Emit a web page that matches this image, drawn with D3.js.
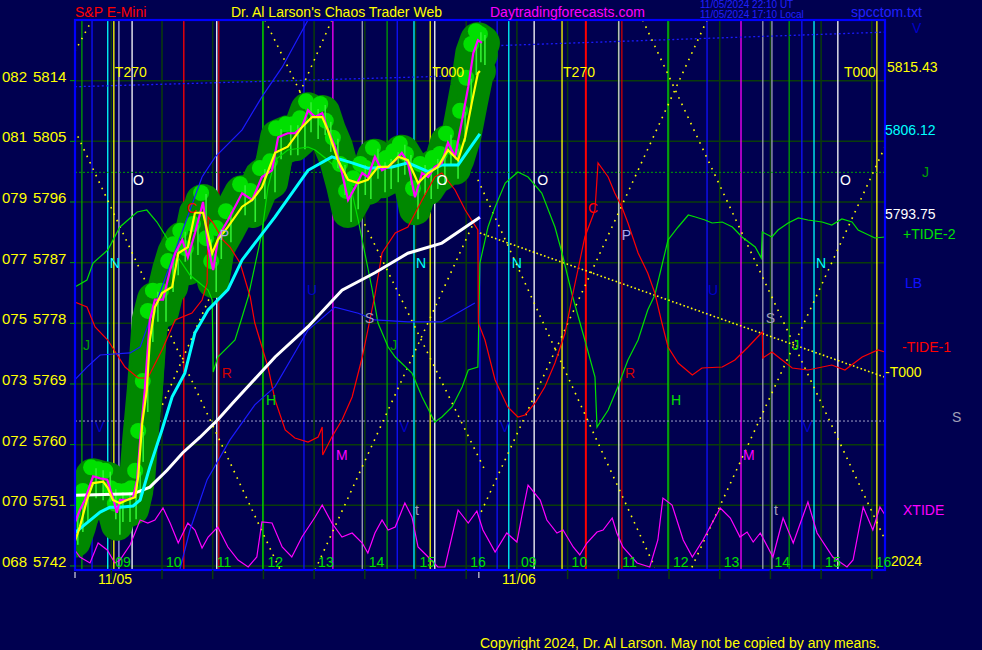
<!DOCTYPE html>
<html><head><meta charset="utf-8">
<script src="https://cdn.jsdelivr.net/npm/d3@7"></script>
<style>
html,body{margin:0;padding:0;background:#000050;overflow:hidden}
svg{display:block}
text{font-family:"Liberation Sans",Arial,sans-serif}
</style>
</head><body>
<svg id="chart" width="982" height="650"></svg>
<script>
// ---------------- DATA ----------------
const priceTicks   = [5742, 5751, 5760, 5769, 5778, 5787, 5796, 5805, 5814];
const degreeLabels = ["068", "070", "072", "073", "075", "077", "079", "081", "082"];
const hourTimes    = [9, 10, 11, 12, 13, 14, 15, 16, 17, 18, 19, 20, 21, 22, 23, 24];
const hourLabels   = ["09","10","11","12","13","14","15","16","09","10","11","12","13","14","15","16"];
const dayStarts    = [8.284, 16.25];
const dayLabels    = ["11/05", "11/06"];

// S&P E-mini price (time in session hours, price)
const priceRaw = [[8.28,5748.4],[8.38,5750.3],[8.48,5751.8],[8.64,5755.3],[8.78,5755.0],[8.92,5754.8],[9.03,5752.2],[9.11,5749.9],[9.17,5751.8],[9.31,5751.8],[9.43,5752.2],[9.51,5754.8],[9.57,5760.7],[9.66,5768.1],[9.76,5778.5],[9.86,5781.5],[10.02,5781.5],[10.16,5785.9],[10.26,5788.4],[10.40,5790.4],[10.51,5787.8],[10.65,5791.4],[10.81,5796.0],[10.91,5789.3],[11.01,5785.9],[11.11,5790.8],[11.30,5793.3],[11.58,5797.3],[11.78,5796.3],[11.97,5799.7],[12.17,5800.7],[12.29,5805.6],[12.48,5806.2],[12.62,5806.2],[12.76,5807.1],[12.88,5809.6],[13.02,5808.6],[13.16,5809.2],[13.27,5806.7],[13.41,5804.2],[13.55,5800.3],[13.67,5796.3],[13.81,5798.2],[13.95,5800.3],[14.06,5799.7],[14.20,5802.7],[14.34,5800.7],[14.46,5801.2],[14.60,5802.2],[14.73,5803.3],[14.85,5801.8],[14.99,5796.7],[15.13,5800.3],[15.25,5799.7],[15.38,5801.2],[15.52,5801.8],[15.64,5804.8],[15.78,5802.7],[15.92,5808.2],[16.04,5813.1],[16.14,5818.1],[16.23,5820.0],[16.31,5819.6]];
// smoothed price (yellow), last 5815.43
const priceSmooth = [[8.28,5745.6],[8.38,5747.8],[8.52,5751.8],[8.64,5754.3],[8.84,5754.5],[8.93,5753.6],[9.03,5751.8],[9.17,5751.3],[9.31,5751.8],[9.47,5752.2],[9.53,5755.2],[9.61,5763.2],[9.70,5768.1],[9.76,5775.5],[9.86,5780.4],[10.00,5782.5],[10.20,5783.4],[10.32,5788.4],[10.51,5789.3],[10.65,5794.4],[10.81,5794.4],[10.99,5788.4],[11.10,5790.4],[11.30,5792.3],[11.58,5795.3],[11.78,5796.3],[11.97,5798.2],[12.23,5803.3],[12.48,5804.2],[12.76,5807.1],[12.96,5808.6],[13.16,5808.6],[13.27,5806.7],[13.47,5802.2],[13.67,5799.3],[13.87,5798.8],[14.06,5799.3],[14.26,5801.2],[14.46,5801.2],[14.66,5802.7],[14.85,5802.2],[15.05,5798.8],[15.25,5800.3],[15.44,5801.2],[15.64,5803.7],[15.84,5802.2],[15.98,5805.6],[16.11,5810.7],[16.23,5815.1],[16.27,5815.43]];
// cyan average, last 5806.12
const avgCyan = [[8.28,5746.9],[8.52,5748.4],[8.78,5750.0],[8.97,5750.7],[9.17,5750.7],[9.43,5750.9],[9.57,5751.8],[9.76,5756.7],[10.00,5762.2],[10.20,5767.1],[10.45,5770.6],[10.65,5776.6],[10.91,5780.0],[11.30,5783.0],[11.58,5787.4],[12.23,5793.8],[12.88,5800.7],[13.35,5802.7],[13.75,5801.8],[14.06,5801.0],[14.54,5801.2],[14.85,5801.8],[15.25,5800.5],[15.52,5801.5],[15.84,5801.5],[16.27,5806.12]];
// white average, last 5793.75
const avgWhite = [[8.28,5752.5],[9.43,5752.7],[9.76,5753.7],[10.10,5756.2],[10.41,5758.8],[10.75,5761.1],[11.10,5763.7],[11.40,5766.2],[12.23,5773.0],[12.88,5777.5],[13.55,5782.9],[14.20,5785.5],[14.85,5788.4],[15.52,5789.9],[16.27,5793.75]];
// blue lines
const blueFast = [[8.28,5769.6],[8.52,5771.5],[8.78,5773.3],[9.37,5773.6],[9.57,5774.5],[10.79,5799.7],[11.05,5802.7],[11.58,5806.7],[11.97,5811.6],[12.37,5816.0],[12.88,5823.0]];
const blueSlow = [[10.35,5741.4],[10.55,5747.3],[10.89,5754.8],[11.34,5760.7],[11.83,5765.9],[12.23,5768.6],[12.88,5777.0],[13.41,5780.4],[13.87,5779.5],[14.20,5778.5],[14.85,5778.2],[15.52,5778.2],[16.17,5781.0]];
const lbDay1 = [[8.28,5813.1],[16.25,5814.8]];
const lbDay2 = [[16.25,5819.1],[24.26,5821.2]];
const levelJ = 5800.4;
const levelS = 5763.5;

// tides (tide units 0..550)
const tidePlus2 = [[8.28,283],[8.52,290],[8.64,307],[8.93,320],[9.17,343],[9.51,358],[9.70,360],[9.90,348],[10.12,330],[10.26,317],[10.55,295],[10.91,280],[10.99,270],[11.01,198],[11.10,213],[11.44,230],[11.58,253],[11.70,273],[11.97,337],[12.09,383],[12.23,410],[12.48,420],[12.88,423],[13.02,420],[13.27,410],[13.55,397],[13.75,377],[13.87,350],[14.00,317],[14.14,282],[14.26,247],[14.46,223],[14.60,213],[14.93,197],[15.13,173],[15.33,153],[15.38,148],[15.52,153],[15.72,163],[15.92,183],[16.04,200],[16.23,203],[16.27,307],[16.43,343],[16.57,363],[16.77,387],[17.02,398],[17.22,393],[17.49,377],[17.75,343],[17.89,317],[18.09,275],[18.34,230],[18.54,193],[18.58,143],[18.80,160],[18.99,183],[19.19,210],[19.39,230],[19.58,260],[19.72,275],[19.98,330],[20.18,343],[20.38,355],[20.52,353],[20.71,350],[20.85,347],[21.05,348],[21.25,343],[21.44,333],[21.70,323],[21.82,312],[21.84,338],[22.03,333],[22.15,340],[22.35,347],[22.55,352],[22.74,350],[23.02,348],[23.21,345],[23.41,351],[23.61,348],[23.73,340],[24.06,332],[24.26,333]];
const tideMinus1 = [[8.28,268],[8.52,263],[8.68,243],[8.93,230],[9.27,203],[9.53,192],[9.72,192],[10.00,220],[10.26,250],[10.59,257],[10.79,270],[10.89,287],[10.91,353],[11.01,347],[11.20,330],[11.34,323],[11.54,307],[11.74,273],[11.83,247],[12.09,203],[12.23,170],[12.43,140],[12.62,132],[12.88,128],[13.08,133],[13.16,143],[13.17,115],[13.35,133],[13.55,150],[13.75,173],[13.95,213],[14.06,240],[14.20,275],[14.34,317],[14.60,337],[14.85,343],[15.13,370],[15.38,393],[15.52,397],[15.78,380],[15.98,360],[16.23,340],[16.24,247],[16.37,230],[16.57,190],[16.82,163],[17.02,153],[17.16,155],[17.36,167],[17.55,183],[17.75,207],[17.95,237],[18.09,273],[18.34,333],[18.54,360],[18.60,407],[18.80,393],[18.93,377],[19.07,363],[19.19,347],[19.39,317],[19.58,297],[19.72,277],[19.86,247],[19.98,223],[20.18,207],[20.46,195],[20.65,202],[21.05,203],[21.30,210],[21.56,223],[21.84,238],[21.85,212],[22.03,218],[22.23,210],[22.43,202],[22.74,200],[23.21,205],[23.47,200],[23.81,213],[24.12,220],[24.26,218]];
const xTide = [[8.28,20],[8.38,13],[8.58,7],[8.74,27],[8.92,20],[9.07,7],[9.17,10],[9.37,25],[9.57,50],[9.72,47],[9.86,50],[10.02,62],[10.16,47],[10.32,27],[10.51,47],[10.65,40],[10.79,22],[10.91,33],[11.10,43],[11.30,23],[11.50,10],[11.70,3],[11.87,13],[11.97,48],[12.17,47],[12.37,23],[12.56,13],[12.76,33],[13.02,53],[13.16,65],[13.35,47],[13.55,33],[13.75,37],[13.95,27],[14.06,17],[14.20,37],[14.34,50],[14.46,40],[14.60,43],[14.79,67],[14.93,53],[15.05,23],[15.25,13],[15.44,3],[15.58,3],[15.84,60],[16.04,47],[16.21,59],[16.33,40],[16.57,18],[16.80,37],[17.00,28],[17.12,60],[17.22,85],[17.46,70],[17.59,50],[17.79,37],[17.91,40],[18.11,23],[18.24,15],[18.38,27],[18.58,38],[18.70,40],[18.88,52],[18.97,37],[19.09,23],[19.37,7],[19.62,3],[19.78,30],[19.88,72],[20.06,65],[20.28,30],[20.46,13],[20.67,30],[21.01,62],[21.21,52],[21.40,33],[21.54,38],[21.66,28],[21.80,37],[22.05,13],[22.25,52],[22.45,27],[22.74,68],[22.92,37],[23.23,13],[23.51,3],[23.63,10],[23.83,63],[24.02,40],[24.16,63],[24.26,55]];

// vertical time-cycle lines
const vLineTimes = [8.42,8.62,8.93,9.05,9.15,9.41,10.43,11.08,11.12,11.99,12.80,13.37,13.95,14.44,14.64,14.97,15.29,15.38,16.27,16.61,16.84,17.34,17.89,18.36,19.01,19.07,19.98,20.75,21.42,21.85,22.03,22.37,22.62,22.86,23.33,24.10];
const vLineKinds = ["g","b","c","y","l","w","r","w","dr","G","b","m","s","g","b","c","y","w","b","b","c","w","y","R","w2","dr","G","b","m","s","s","g","b","c","w","y"];

// yellow dotted cycle diagonals
const cycleLines = [
  [[8.28,5818.3],[8.62,5823.0]],
  [[8.28,5806.7],[12.33,5741.4]],
  [[12.03,5823.0],[16.37,5756.2]],
  [[13.35,5823.0],[9.27,5753.3]],
  [[13.02,5741.4],[16.17,5793.3]],
  [[19.48,5823.0],[24.26,5745.9]],
  [[20.75,5823.0],[16.27,5749.6]],
  [[16.23,5799.3],[19.72,5741.8]],
  [[20.45,5741.8],[24.26,5804.2]]
];
const t000Line = [[16.27,5791.4],[24.26,5770.0]];

// letter annotations [text, time, price, kind]
const marks = [
  ["T270",9.07,5814.5,"y"],["T270",17.91,5814.5,"y"],["T000",15.33,5814.5,"y"],["T000",23.45,5814.5,"y"],
  ["O",9.43,5798.5,"w"],["O",15.42,5798.5,"w"],["O",17.40,5798.5,"w"],["O",23.37,5798.5,"w"],
  ["N",8.97,5786.2,"c"],["N",15.01,5786.2,"c"],["N",16.90,5786.2,"c"],["N",22.90,5786.2,"c"],
  ["C",10.49,5794.4,"r"],["C",18.40,5794.4,"r"],
  ["P",11.14,5790.4,"l"],["P",19.07,5790.4,"l"],
  ["J",8.44,5774.0,"g"],["J",14.50,5774.0,"g"],["J",22.43,5774.0,"G"],
  ["S",14.00,5778.0,"s"],["S",21.91,5778.0,"s"],
  ["R",11.18,5769.9,"dr"],["R",19.13,5769.9,"dr"],
  ["H",12.05,5765.9,"G"],["H",20.04,5765.9,"G"],
  ["M",13.43,5757.7,"m"],["M",21.46,5757.7,"m"],
  ["U",12.86,5782.2,"db"],["U",20.77,5782.2,"db"],
  ["V",8.68,5761.9,"db"],["V",14.69,5761.9,"db"],["V",16.67,5761.9,"db"],["V",22.64,5761.9,"db"],
  ["t",14.99,5749.6,"s"],["t",22.07,5749.6,"s"]
];

// ---------------- STYLE ----------------
const C = {g:"#00a000", G:"#00e000", b:"#1010ff", db:"#0000c8", c:"#00ffff", y:"#ffff00", l:"#a8a8e8",
           w:"#ffffff", w2:"#dcdcdc", r:"#ff0000", R:"#ff0000", dr:"#d00000", m:"#ff00ff", s:"#a0a0b8"};
const BG = "#000050", GRID = "#0a3c0a";

const svg = d3.select("#chart");
const L = 75, R = 885, T = 20, B = 570;
const x = d3.scaleLinear().domain([8.284, 24.26]).range([L, R]);
const y = d3.scaleLinear().domain([5741.4, 5823.0]).range([B, T]);
const yt = d3.scaleLinear().domain([0, 550]).range([B, T]);

svg.append("rect").attr("width", 982).attr("height", 650).attr("fill", BG);
svg.append("defs").append("clipPath").attr("id", "clip")
  .append("rect").attr("x", L).attr("y", T).attr("width", R - L).attr("height", B - T);
const plot = svg.append("g").attr("clip-path", "url(#clip)");

// grid
plot.selectAll(".hg").data(priceTicks).join("line")
  .attr("x1", L).attr("x2", R).attr("y1", d => y(d)).attr("y2", d => y(d))
  .attr("stroke", GRID).attr("stroke-width", 1.5);
plot.selectAll(".vg").data(hourTimes).join("line")
  .attr("x1", d => x(d)).attr("x2", d => x(d)).attr("y1", T).attr("y2", B)
  .attr("stroke", GRID).attr("stroke-width", 1.5);

// vertical cycle lines
plot.selectAll(".vl").data(vLineTimes).join("line")
  .attr("x1", d => x(d)).attr("x2", d => x(d)).attr("y1", T).attr("y2", B)
  .attr("stroke", (d, i) => C[vLineKinds[i]])
  .attr("stroke-width", (d, i) => vLineKinds[i] === "R" ? 2 : 1.3);

// horizontal dotted levels
plot.append("line").attr("x1", L).attr("x2", R).attr("y1", y(levelJ)).attr("y2", y(levelJ))
  .attr("stroke", "#00a000").attr("stroke-dasharray", "2 2").attr("stroke-width", 1);
plot.append("line").attr("x1", L).attr("x2", R).attr("y1", y(levelS)).attr("y2", y(levelS))
  .attr("stroke", "#a0a0c8").attr("stroke-dasharray", "2 2").attr("stroke-width", 1);

const line = d3.line().x(d => x(d[0])).y(d => y(d[1]));
const tline = d3.line().x(d => x(d[0])).y(d => yt(d[1]));

[lbDay1, lbDay2].forEach(s => plot.append("path").attr("d", line(s)).attr("fill", "none")
  .attr("stroke", "#1a1aff").attr("stroke-width", 1.3).attr("stroke-dasharray", "2 2.5"));

// yellow dotted diagonals
cycleLines.forEach(s => plot.append("path").attr("d", line(s)).attr("fill", "none")
  .attr("stroke", "#ffff00").attr("stroke-width", 1.6).attr("stroke-dasharray", "1.6 5.5"));
plot.append("path").attr("d", line(t000Line)).attr("fill", "none")
  .attr("stroke", "#ffff00").attr("stroke-width", 1.6).attr("stroke-dasharray", "1.6 2.4");

// green price blobs (dark halo around bars, bright tops, light streaks)
const halo = plot.append("g");
halo.append("path").attr("d", line(priceRaw)).attr("fill", "none").attr("stroke", "#008800")
  .attr("stroke-width", 36).attr("stroke-linecap", "round").attr("stroke-linejoin", "round");
halo.append("path").attr("d", line(priceRaw)).attr("transform", "translate(0,12)").attr("fill", "none")
  .attr("stroke", "#008800").attr("stroke-width", 32).attr("stroke-linecap", "round").attr("stroke-linejoin", "round");
halo.append("path").attr("d", line(priceSmooth)).attr("fill", "none").attr("stroke", "#008800")
  .attr("stroke-width", 32).attr("stroke-linecap", "round").attr("stroke-linejoin", "round");
plot.selectAll(".blob").data(priceRaw).join("circle")
  .attr("cx", d => x(d[0]) - 2).attr("cy", d => y(d[1]) - 9).attr("r", 8).attr("fill", "#00e000");
plot.selectAll(".streak").data(priceRaw).join("line")
  .attr("x1", d => x(d[0]) + 3).attr("x2", d => x(d[0]) + 3)
  .attr("y1", d => y(d[1]) - 8).attr("y2", d => y(d[1]) + 22)
  .attr("stroke", "#30f030").attr("stroke-width", 1.6);

// tides
plot.append("path").attr("d", tline(tidePlus2)).attr("fill", "none").attr("stroke", "#00e000").attr("stroke-width", 1.2);
plot.append("path").attr("d", tline(tideMinus1)).attr("fill", "none").attr("stroke", "#ff0000").attr("stroke-width", 1.2);
plot.append("path").attr("d", tline(xTide)).attr("fill", "none").attr("stroke", "#ff00ff").attr("stroke-width", 1.2);

// blue averages
plot.append("path").attr("d", line(blueFast)).attr("fill", "none").attr("stroke", "#1a1aff").attr("stroke-width", 1.2);
plot.append("path").attr("d", line(blueSlow)).attr("fill", "none").attr("stroke", "#1a1aff").attr("stroke-width", 1.2);
// white and cyan
plot.append("path").attr("d", line(avgWhite)).attr("fill", "none").attr("stroke", "#ffffff").attr("stroke-width", 3);
plot.append("path").attr("d", line(avgCyan)).attr("fill", "none").attr("stroke", "#00ffff").attr("stroke-width", 3);
// price
plot.append("path").attr("d", line(priceRaw)).attr("fill", "none").attr("stroke", "#ff00ff").attr("stroke-width", 2.2);
plot.append("path").attr("d", line(priceSmooth)).attr("fill", "none").attr("stroke", "#ffff00").attr("stroke-width", 2.2);

// letter marks
plot.selectAll(".mk").data(marks).join("text")
  .attr("x", d => x(d[1])).attr("y", d => y(d[2])).text(d => d[0])
  .attr("fill", d => C[d[3]]).attr("font-size", 14);

// border
svg.append("rect").attr("x", L).attr("y", T).attr("width", R - L).attr("height", B - T)
  .attr("fill", "none").attr("stroke", "#0000ff").attr("stroke-width", 2.2);

// y axis labels
const ya = svg.append("g");
ya.selectAll(".tk").data(priceTicks).join("line")
  .attr("x1", L - 5).attr("x2", L).attr("y1", d => y(d)).attr("y2", d => y(d)).attr("stroke", "#00a000");
ya.selectAll(".dl").data(priceTicks).join("text")
  .attr("x", 2).attr("y", d => y(d) + 1).text((d, i) => degreeLabels[i])
  .attr("fill", "#ffff00").attr("font-size", 15);
ya.selectAll(".pl").data(priceTicks).join("text")
  .attr("x", 33).attr("y", d => y(d) + 1).text(d => d)
  .attr("fill", "#ffff00").attr("font-size", 15);

// x axis
const xa = svg.append("g");
xa.selectAll(".ht").data(hourTimes).join("line")
  .attr("x1", d => x(d)).attr("x2", d => x(d)).attr("y1", B).attr("y2", B + 9)
  .attr("stroke", GRID).attr("stroke-width", 1.5);
xa.selectAll(".hl").data(hourTimes).join("text")
  .attr("x", d => x(d) + 4).attr("y", B - 3).text((d, i) => hourLabels[i])
  .attr("fill", "#00e000").attr("font-size", 14);
xa.selectAll(".dt").data(dayStarts).join("line")
  .attr("x1", d => x(d)).attr("x2", d => x(d)).attr("y1", B + 2).attr("y2", B + 8)
  .attr("stroke", "#ffffff").attr("stroke-width", 1);
xa.selectAll(".dlb").data(dayStarts).join("text")
  .attr("x", d => x(d) + 23).attr("y", B + 14).text((d, i) => dayLabels[i])
  .attr("fill", "#ffff00").attr("font-size", 14);

// header
const txt = (s, px, py, col, fs) => svg.append("text").attr("x", px).attr("y", py).text(s)
  .attr("fill", col).attr("font-size", fs);
txt("S&P E-Mini", 75, 17, "#ff0000", 14);
txt("Dr. Al Larson's Chaos Trader Web", 231, 17, "#ffff00", 14);
txt("Daytradingforecasts.com", 490, 17, "#ff00ff", 14);
txt("11/05/2024 22:10  UT", 700, 8, "#2020ff", 10);
txt("11/05/2024 17:10  Local", 700, 18, "#2020ff", 10);
txt("spcctom.txt", 851, 17, "#2020ff", 14);
txt("Copyright 2024, Dr. Al Larson. May not be copied by any means.", 480, 648, "#ffff00", 14);

// right side labels
txt("V", 912, 33, "#0000c8", 14);
txt("5815.43", 887, 72, "#ffff00", 14);
txt("5806.12", 885, 135, "#00ffff", 14);
txt("J", 922, 177, "#00a000", 14);
txt("5793.75", 885, 219, "#ffffff", 14);
txt("+TIDE-2", 903, 239, "#00e000", 14);
txt("LB", 905, 288, "#1010ff", 14);
txt("-TIDE-1", 902, 352, "#ff0000", 14);
txt("-T000", 885, 377, "#ffff00", 14);
txt("S", 952, 422, "#a0a0b8", 14);
txt("XTIDE", 903, 515, "#ff00ff", 14);
txt("2024", 891, 566, "#ffff00", 14);
</script>
</body></html>
